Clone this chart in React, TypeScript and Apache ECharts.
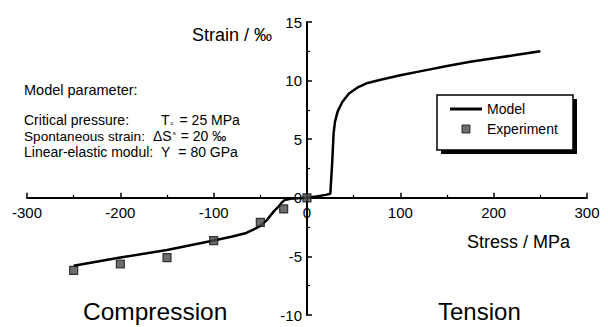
import React, { useEffect, useRef } from "react";
import * as echarts from "echarts";

const modelStress = [-250, -200, -150, -100, -80, -65, -57, -50, -43, -36, -30, -27, -24, -15, 0, 10, 20, 25, 27, 28.5, 30, 33, 38, 45, 55, 65, 80, 100, 125, 150, 175, 200, 225, 250];
const modelStrain = [-5.8, -5.1, -4.45, -3.65, -3.3, -3.0, -2.7, -2.4, -1.9, -1.2, -0.7, -0.4, -0.2, -0.05, 0, 0.12, 0.25, 0.35, 3.0, 5.5, 6.5, 7.4, 8.2, 8.9, 9.45, 9.8, 10.1, 10.45, 10.85, 11.25, 11.6, 11.9, 12.2, 12.5];

const expStress = [-250, -200, -150, -100, -50, -25, 0];
const expStrain = [-6.2, -5.65, -5.1, -3.65, -2.1, -0.95, 0];

const xTicks = { min: -300, max: 300, interval: 100 };
const yTicks = { min: -10, max: 15, interval: 5 };

const FONT = "'Liberation Sans', Arial, Helvetica, sans-serif";

const W = 608;
const H = 327;
const GRID = { left: 27, right: 21, top: 22, bottom: 12 };

export default function App() {
  const ref = useRef<HTMLDivElement>(null);
  useEffect(() => {
    if (!ref.current) return;
    const chart = echarts.init(ref.current, undefined, { renderer: "svg" });
    const plotW = W - GRID.left - GRID.right;
    const plotH = H - GRID.top - GRID.bottom;
    // negative offsets move the axes inward so that they cross at (0, 0)
    const xAxisOffset = -((0 - yTicks.min) / (yTicks.max - yTicks.min)) * plotH;
    const yAxisOffset = -((0 - xTicks.min) / (xTicks.max - xTicks.min)) * plotW;
    const txt = (x: number, y: number, text: string, fontSize = 14, extra: any = {}) => ({
      type: "text",
      x,
      y,
      silent: true,
      z: 20,
      style: { text, fontSize, fontFamily: FONT, fill: "#000", align: "left", verticalAlign: "middle", ...extra },
    });
    chart.setOption({
      animation: false,
      textStyle: { fontFamily: FONT, color: "#000" },
      grid: { ...GRID, containLabel: false, outerBoundsMode: "none" },
      xAxis: {
        type: "value",
        position: "bottom",
        offset: xAxisOffset,
        min: xTicks.min,
        max: xTicks.max,
        interval: xTicks.interval,
        axisLine: { onZero: false, lineStyle: { color: "#000", width: 2 } },
        axisTick: { inside: true, length: 5, lineStyle: { color: "#000", width: 1.5 } },
        minorTick: { show: true, splitNumber: 2, length: 3, lineStyle: { color: "#000", width: 1.2 } },
        splitLine: { show: false },
        minorSplitLine: { show: false },
        axisLabel: { fontSize: 15, color: "#000", margin: 7, fontFamily: FONT },
      },
      yAxis: {
        type: "value",
        position: "left",
        offset: yAxisOffset,
        min: yTicks.min,
        max: yTicks.max,
        interval: yTicks.interval,
        axisLine: { onZero: false, lineStyle: { color: "#000", width: 2 } },
        axisTick: { inside: true, length: 5, lineStyle: { color: "#000", width: 1.5 } },
        minorTick: { show: true, splitNumber: 2, length: 3, lineStyle: { color: "#000", width: 1.2 } },
        splitLine: { show: false },
        minorSplitLine: { show: false },
        axisLabel: { fontSize: 15, color: "#000", margin: 5, fontFamily: FONT },
      },
      legend: {
        orient: "vertical",
        left: 450,
        top: 102,
        padding: 0,
        itemWidth: 32,
        itemHeight: 8,
        itemGap: 6,
        symbolKeepAspect: true,
        z: 10,
        textStyle: { fontSize: 14, color: "#000", fontFamily: FONT },
        data: [
          { name: "Model", icon: "path://M0,0 L32,0 L32,3 L0,3 Z", itemStyle: { color: "#000" } },
          { name: "Experiment", icon: "path://M0,0 L8,0 L8,8 L0,8 Z", itemStyle: { color: "#4a4a4a", borderColor: "#111", borderWidth: 1 } },
        ],
      },
      graphic: [
        { type: "rect", z: 5, silent: true, shape: { x: 441, y: 99, width: 136, height: 55 }, style: { fill: "#000" } },
        { type: "rect", z: 6, silent: true, shape: { x: 437, y: 95, width: 136, height: 55 }, style: { fill: "#fff", stroke: "#000", lineWidth: 1.5 } },
        txt(192, 35, "Strain / ‰", 18),
        txt(467, 242, "Stress / MPa", 18),
        txt(24, 90, "Model parameter:", 14.5),
        txt(24, 120, "Critical pressure:", 14),
        txt(161, 120, "T{sub|c}{gap|}= 25 MPa", 14, {
          rich: {
            sub: { fontSize: 6, fontFamily: FONT, verticalAlign: "bottom", padding: [0, 0, 1, 1] },
            gap: { width: 6 },
          },
        }),
        txt(24, 136, "Spontaneous strain:", 13.6),
        txt(153, 136, "ΔS{sup|s}{gap|}= 20 ‰", 14, {
          rich: {
            sup: { fontSize: 6, fontFamily: FONT, verticalAlign: "top", padding: [1, 0, 0, 1] },
            gap: { width: 5 },
          },
        }),
        txt(24, 152, "Linear-elastic modul:", 14),
        txt(161, 152, "Y{gap|}= 80 GPa", 14, { rich: { gap: { width: 8 } } }),
        txt(83, 311, "Compression", 24.5),
        txt(438, 311, "Tension", 24),
      ],
      series: [
        {
          name: "Model",
          type: "line",
          data: modelStress.map((s, i) => [s, modelStrain[i]]),
          showSymbol: false,
          symbol: "none",
          smooth: false,
          lineStyle: { color: "#000", width: 2.5 },
          itemStyle: { color: "#000" },
          z: 3,
        },
        {
          name: "Experiment",
          type: "scatter",
          data: expStress.map((s, i) => [s, expStrain[i]]),
          symbol: "rect",
          symbolSize: 8,
          itemStyle: { color: "#4a4a4a", borderColor: "#111", borderWidth: 1.2 },
          z: 4,
        },
      ],
    });
    return () => chart.dispose();
  }, []);
  return <div ref={ref} style={{ position: "absolute", left: 0, top: 0, width: W, height: H }} />;
}
